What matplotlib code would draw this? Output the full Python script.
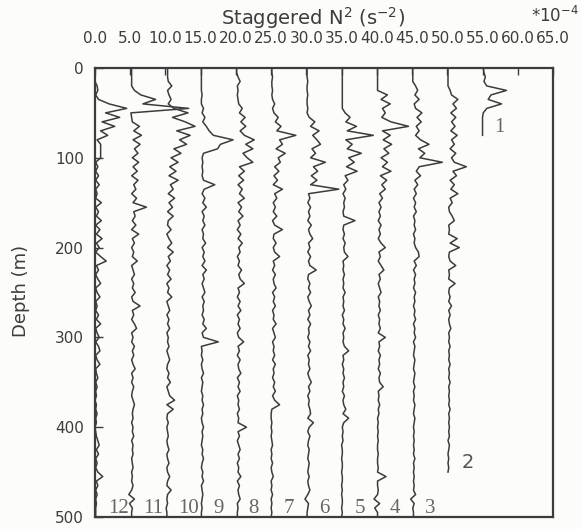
import numpy as np
import matplotlib
matplotlib.use("Agg")
import matplotlib.pyplot as plt

plt.rcParams['font.family'] = ['DejaVu Sans']
plt.rcParams['mathtext.default'] = 'regular'

# depth grid (m), 5 m steps
depth = np.arange(0, 501, 5)

# N^2 (units of 1e-4 s^-2) per profile
p12 = [0.0, 0.0, 0.0, 0.0, 0.3, 0.4, 0.1, 0.5, 2.0, 4.5,
       1.5, 3.5, 1.0, 2.8, 0.8, 1.8, 0.3, 0.8, 0.8, 0.8,
       0.8, 0.1, 0.4, 0.1, 0.5, 0.1, 0.6, 0.1, 0.3, 0.1,
       0.9, 0.1, 0.5, 0.2, 0.9, 0.1, 0.7, 0.2, 1.0, 0.2,
       0.6, 0.1, 0.8, 1.6, 0.2, 0.5, 0.1, 0.4, 0.8, 0.1,
       0.3, 0.7, 0.1, 0.3, 0.1, 0.5, 0.2, 0.8, 0.1, 0.3,
       0.6, 0.1, 0.5, 0.7, 0.1, 0.3, 0.7, 0.1, 0.2, 0.4,
       0.1, 0.3, 0.1, 0.2, 0.0, 0.2, 0.1, 0.3, 0.1, 0.2,
       0.0, 0.1, 0.2, 0.4, 0.6, 0.2, 0.5, 0.1, 0.3, 0.1,
       0.4, 1.1, 0.2, 0.4, 0.1, 0.3, 0.1, 0.2, 0.1, 0.1,
       0.1]
p11 = [0.2, 0.2, 0.2, 0.2, 0.2, 0.6, 1.5, 3.6, 1.8, 8.3,
       0.1, 0.2, 0.3, 1.3, 0.5, 1.6, 0.4, 1.4, 0.6, 1.1,
       0.3, 1.2, 0.4, 1.0, 0.2, 1.1, 0.5, 0.8, 0.2, 0.9,
       0.4, 2.3, 0.5, 0.7, 0.3, 0.8, 0.2, 1.2, 0.3, 0.6,
       0.2, 0.5, 0.3, 1.0, 0.2, 0.4, 0.6, 0.2, 0.5, 0.3,
       0.7, 0.2, 0.4, 1.4, 0.3, 0.5, 0.2, 0.6, 0.9, 0.2,
       0.4, 0.2, 0.6, 0.3, 0.5, 0.2, 0.4, 0.7, 0.2, 0.4,
       0.2, 0.5, 0.3, 0.2, 0.4, 0.6, 0.4, 0.3, 0.4, 0.2,
       0.4, 0.3, 0.5, 0.2, 0.4, 0.3, 0.4, 0.2, 0.3, 0.4,
       0.2, 0.3, 0.2, 0.4, 0.2, -0.2, 0.6, -0.1, 0.3, 0.2,
       0.2]
p10 = [0.3, 0.3, 0.3, 0.4, 0.9, 0.3, 0.5, 0.8, 0.4, 1.2,
       3.2, 1.0, 2.8, 4.2, 1.6, 3.5, 2.0, 3.0, 1.2, 2.2,
       0.8, 1.8, 0.6, 1.5, 0.5, 1.8, 0.7, 1.1, 0.4, 1.3,
       0.5, 1.0, 0.3, 1.1, 0.4, 0.3, 0.8, 0.2, 0.5, 0.9,
       0.3, 1.1, 0.4, 0.7, 0.2, 0.6, 0.3, 0.8, 0.2, 0.5,
       0.3, 0.9, 0.2, 0.4, 0.6, 0.2, 0.5, 0.3, 0.6, 0.2,
       0.4, 0.3, 0.5, 0.2, 0.4, 0.6, 0.3, 0.2, 0.5, 0.3,
       0.7, 0.2, 0.4, 0.6, 1.3, 0.2, 1.1, 0.3, 0.2, 0.4,
       0.2, 0.3, 0.4, 0.2, 0.3, 0.5, 0.2, 0.3, 0.5, 0.2,
       0.3, 0.6, 0.3, 0.2, 0.8, 0.3, 0.2, 0.3, 0.1, 0.2,
       0.2]
p9 = [0.1, 0.1, 0.1, 0.1, 0.1, 0.1, 0.2, 0.1, 0.1, 0.4,
      0.2, 0.6, 0.3, 0.8, 1.2, 1.8, 4.6, 2.8, 2.4, 0.4,
      0.2, 0.3, 0.2, 0.3, 0.2, 0.4, 2.0, 0.5, 0.2, 0.6,
      0.3, 0.8, 0.2, 0.5, 0.3, 0.6, 0.2, 0.4, 0.3, 0.7,
      0.2, 0.5, 0.3, 0.6, 0.2, 0.8, 0.3, 0.5, 0.2, 0.4,
      0.6, 0.2, 0.5, 0.3, 0.4, 0.2, 0.5, 0.3, 0.8, 0.2,
      0.4, 2.5, 0.1, 0.2, 0.1, 0.3, 0.1, 0.2, 0.4, 0.1,
      0.3, 0.2, 0.1, 0.3, 0.2, 0.4, 0.2, 0.3, 0.1, 0.2,
      0.4, 0.2, 0.3, 0.2, 0.1, 0.3, 0.2, 0.4, 0.2, 0.1,
      0.3, 0.2, 0.4, 0.1, 0.2, 0.3, 0.2, 0.1, 0.2, 0.1,
      0.1]
p8 = [0.1, 0.1, 0.3, 0.6, 0.2, 0.3, 0.2, 0.3, 0.4, 0.9,
      0.5, 1.3, 0.7, 1.4, 0.6, 1.2, 2.6, 1.4, 2.4, 1.0,
      1.6, 2.4, 0.5, 1.2, 0.4, 1.1, 0.3, 0.9, 0.5, 1.2,
      0.3, 0.8, 0.4, 1.0, 0.3, 0.6, 0.2, 0.7, 0.3, 0.9,
      0.4, 0.6, 0.2, 0.5, 0.3, 0.8, 0.4, 0.6, 1.2, 0.3,
      0.5, 0.2, 0.6, 0.3, 0.7, 0.2, 0.5, 0.3, 0.6, 0.2,
      0.4, 1.1, 0.3, 0.5, 0.2, 0.6, 0.3, 0.4, 0.7, 0.2,
      0.5, 0.3, 0.6, 0.2, 0.4, 0.3, 0.5, 0.2, 0.4, 0.3,
      1.5, 0.3, 0.5, 0.2, 0.4, 0.6, 0.3, 0.5, 0.2, 0.4,
      0.3, 0.7, 0.2, 0.5, 0.3, 0.4, 0.6, 0.2, 0.3, 0.2,
      0.2]
p7 = [0.1, 0.1, 0.2, 0.1, 0.1, 0.2, 0.1, 0.2, 0.5, 0.2,
      0.4, 1.0, 0.6, 1.4, 0.8, 3.5, 1.2, 1.6, 0.7, 2.0,
      1.0, 1.3, 0.5, 1.1, 0.4, 0.9, 0.3, 1.6, 0.5, 0.8,
      0.3, 0.6, 0.3, 0.8, 0.2, 0.5, 1.6, 0.4, 0.3, 0.7,
      0.3, 0.5, 1.2, 0.3, 0.5, 0.2, 0.6, 0.3, 0.4, 0.7,
      0.2, 0.5, 0.3, 0.6, 0.2, 0.4, 0.3, 0.7, 0.2, 0.4,
      0.6, 0.2, 0.4, 0.3, 0.5, 0.2, 0.6, 0.3, 0.4, 0.2,
      0.5, 0.3, 0.6, 0.2, 0.5, 1.2, 0.1, 0.0, 0.0, 0.1,
      0.0, 0.1, 0.0, 0.1, 0.2, 0.0, 0.1, 0.0, 0.2, 0.0,
      0.1, 0.3, 0.0, 0.1, 0.0, 0.2, 0.0, 0.1, 0.0, 0.1,
      0.0]
p6 = [0.1, 0.1, 0.1, 0.2, 0.1, 0.1, 0.2, 0.1, 0.1, 0.2,
      0.1, 0.4, 1.2, 0.6, 1.8, 0.9, 1.5, 2.0, 0.8, 1.3,
      0.6, 2.7, 1.0, 1.6, 0.7, 1.5, 0.6, 4.6, 0.3, 0.5,
      0.2, 0.6, 0.3, 0.5, 0.2, 0.7, 0.3, 0.5, 0.9, 0.3,
      0.5, 0.2, 0.6, 0.3, 0.5, 1.4, 0.3, 0.2, 0.5, 0.3,
      0.6, 0.2, 0.4, 0.7, 0.3, 0.5, 0.2, 0.6, 0.3, 0.4,
      0.2, 0.5, 0.3, 0.6, 0.2, 0.4, 0.3, 0.5, 0.2, 0.4,
      0.7, 0.3, 0.5, 0.2, 0.4, 0.3, 0.5, 0.6, 0.2, 1.0,
      0.4, 0.2, 0.5, 0.3, 0.2, 0.4, 0.3, 0.2, 0.4, 0.3,
      0.2, 0.4, 0.2, 0.3, 0.5, 0.2, -0.2, 0.3, 0.2, 0.1,
      0.1]
p5 = [0.1, 0.1, 0.1, 0.1, 0.1, 0.1, 0.1, 0.1, 0.1, 0.1,
      0.5, 1.2, 0.6, 2.1, 0.8, 4.5, 0.6, 1.5, 0.8, 2.8,
      1.0, 1.8, 0.7, 2.2, 0.5, 0.9, 0.3, 0.6, 0.2, 0.5,
      0.3, 0.4, 0.2, 0.3, 1.9, 0.3, 0.2, 0.4, 0.2, 0.5,
      0.3, 0.4, 0.9, 0.2, 0.3, 0.2, 0.4, 0.2, 0.3, 0.2,
      0.5, 0.2, 0.3, 0.2, 0.4, 0.1, 0.3, 0.2, 0.5, 0.2,
      0.3, 0.2, 0.4, 1.0, 0.2, 0.3, 0.1, 0.3, 0.2, 0.4,
      0.2, 0.3, 0.1, 0.4, 0.2, 0.3, 0.6, 0.2, 1.0, 0.3,
      0.1, 0.2, 0.1, 0.2, 0.0, 0.1, 0.1, 0.0, 0.1, 0.1,
      0.0, 0.1, 0.1, 0.0, 0.1, 0.0, 0.1, 0.1, 0.0, 0.1,
      0.0]
p4 = [0.1, 0.1, 0.1, 0.1, 0.1, 0.1, 1.5, 0.6, 1.9, 0.8,
      1.2, 0.7, 2.0, 4.5, 0.8, 1.9, 0.9, 2.1, 1.0, 1.7,
      0.6, 1.5, 0.8, 2.0, 0.5, 1.4, 0.7, 1.2, 0.4, 0.8,
      0.3, 0.6, 0.3, 0.5, 0.2, 0.6, 0.3, 0.5, 0.2, 0.6,
      1.2, 0.3, 0.5, 0.2, 0.6, 1.0, 0.3, 0.5, 0.2, 0.4,
      0.6, 0.2, 0.4, 0.3, 0.5, 0.2, 0.4, 0.3, 0.5, 0.2,
      1.2, 0.3, 0.4, 0.2, 0.5, 0.3, 0.4, 0.2, 0.5, 0.3,
      0.4, 0.9, 0.2, 0.3, 0.2, 0.4, 0.2, 0.3, 0.1, 0.2,
      0.1, 0.2, 0.1, 0.2, 0.1, 0.1, 0.2, 0.1, 0.1, 0.2,
      0.1, 1.3, 0.1, 0.1, 0.2, 0.1, -0.4, 0.4, -0.3, 0.1,
      0.1]
p3 = [0.1, 0.1, 0.1, 0.1, 0.5, 0.8, 0.4, 1.0, 0.3, 0.5,
      1.4, 0.7, 1.3, 0.6, 1.0, 0.5, 1.2, 2.4, 0.9, 1.8,
      1.1, 4.3, 1.0, 0.6, 1.2, 0.4, 0.8, 0.3, 0.6, 0.2,
      0.5, 0.3, 0.6, 0.2, 0.4, 0.3, 0.5, 0.2, 0.4, 0.3,
      0.5, 0.9, 1.0, 0.3, 0.6, 0.2, 0.5, 0.3, 0.4, 0.2,
      0.5, 0.3, 0.4, 0.2, 0.4, 0.3, 0.5, 0.2, 0.4, 0.3,
      0.5, 0.2, 0.4, 0.3, 0.2, 0.4, 0.3, 0.2, 0.4, 0.3,
      0.2, 0.4, 0.2, 0.3, 0.2, 0.4, 0.3, 0.2, 0.4, 0.3,
      0.2, 0.3, 0.2, 0.3, 0.2, 0.3, 0.2, 0.4, 0.2, 0.3,
      0.2, 0.3, 0.2, 0.3, 0.2, 0.5, -0.2, 0.3, 0.1, 0.2,
      0.2]
# profile 2 stops at 450 m, profile 1 at 75 m
p2 = [0.1, 0.1, 0.1, 0.1, 0.1, 0.4, 0.6, 1.5, 0.8, 1.3,
      0.5, 1.2, 0.6, 1.1, 0.5, 1.4, 0.6, 1.0, 0.4, 1.2,
      0.6, 1.0, 2.7, 0.8, 1.3, 0.4, 1.0, 0.5, 1.5, 0.4,
      0.7, 0.2, 0.3, 0.7, 1.0, 0.2, 0.3, 0.2, 1.4, 0.4,
      1.7, 0.3, 0.2, 0.4, 1.2, 0.2, 0.3, 0.2, 1.1, 0.3,
      0.2, 0.4, 0.2, 0.6, 0.2, 0.4, 0.2, 0.3, 0.5, 0.2,
      0.3, 0.2, 0.4, 0.2, 0.3, 0.2, 0.4, 0.2, 0.3, 0.2,
      0.4, 0.2, 0.3, 0.2, 0.3, 0.2, 0.4, 0.2, 0.3, 0.2,
      0.3, 0.2, 0.3, 0.1, 0.3, 0.2, 0.1, 0.2, 0.1, 0.2,
      0.1]
p1 = [0.1, 0.2, 0.4, 0.2, 0.6, 3.4, 1.2, 0.8, 2.7, 0.6,
      0.1, 0.0, 0.0, 0.0, 0.0, 0.0]

profiles = [p1, p2, p3, p4, p5, p6, p7, p8, p9, p10, p11, p12]
names = ['1', '2', '3', '4', '5', '6', '7', '8', '9', '10', '11', '12']
stagger = [55, 50, 45, 40, 35, 30, 25, 20, 15, 10, 5, 0]
xticks = np.arange(0, 66, 5)

ink = '#3c3c3c'

fig = plt.figure(figsize=(5.81, 5.29), dpi=100)
fig.patch.set_facecolor('#fcfcfa')
ax = fig.add_axes([0.1635, 0.0227, 0.7883, 0.8488])
ax.set_facecolor('#fcfcfa')

for vals, off in zip(profiles, stagger):
    d = depth[:len(vals)]
    ax.plot(off + np.array(vals), d, color=ink, lw=1.1)

ax.set_xlim(0, 65)
ax.set_ylim(500, 0)

ax.set_xticks(xticks)
ax.set_xticklabels(['%.1f' % v for v in xticks])
ax.xaxis.tick_top()
ax.tick_params(axis='x', direction='in', length=5, pad=16, labelsize=11,
               colors=ink, width=1)
ax.set_yticks([0, 100, 200, 300, 400, 500])
ax.tick_params(axis='y', direction='in', length=6, pad=8, labelsize=11,
               colors=ink, width=1)
for s in ax.spines.values():
    s.set_color(ink)
    s.set_linewidth(1.6)

# profile numbers
for name, off in zip(names[2:], stagger[2:]):
    ax.text(off + 1.8, 491, name, family='Liberation Serif', fontsize=15,
            color='#666666', ha='left', va='center')
ax.text(55 + 1.6, 66, '1', family='Liberation Serif', fontsize=15,
        color='#666666', ha='left', va='center')
ax.text(50 + 2.1, 439, '2', fontsize=14, color='#555555',
        ha='left', va='center')

fig.text(0.539, 0.966, 'Staggered N$^2$ (s$^{-2}$)', ha='center', va='center',
         fontsize=14, color=ink)
fig.text(0.955, 0.970, '*10$^{-4}$', ha='center', va='center',
         fontsize=12, color=ink)
fig.text(0.036, 0.45, 'Depth (m)', rotation=90, ha='center', va='center',
         fontsize=13, color=ink)

fig.savefig('out.png', dpi=100, facecolor=fig.get_facecolor())
